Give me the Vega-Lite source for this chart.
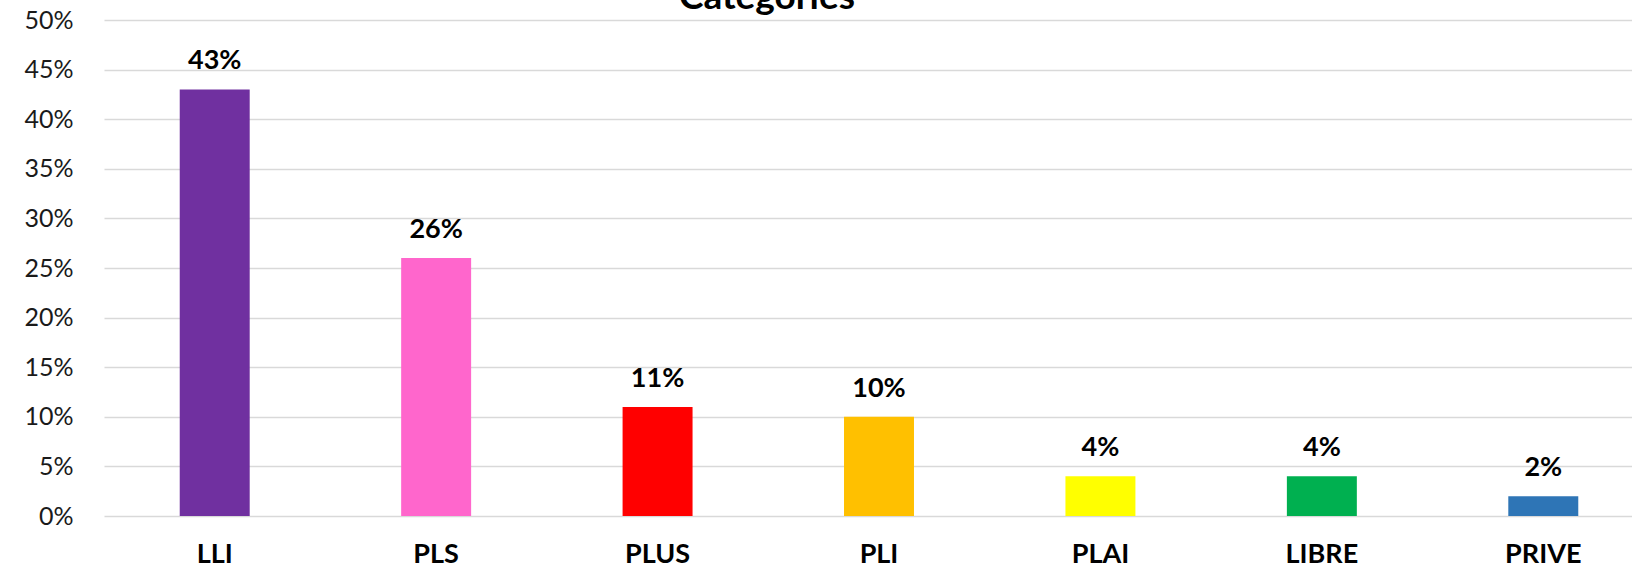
{
  "$schema": "https://vega.github.io/schema/vega-lite/v6.json",
  "autosize": {"type": "none"},
  "width": 1528,
  "height": 496,
  "padding": {"left": 104, "top": 20, "right": 0, "bottom": 55},
  "background": "white",
  "title": {
    "text": "Categories",
    "font": "Lato",
    "fontSize": 37,
    "fontWeight": "bold",
    "color": "#000000",
    "anchor": "middle",
    "frame": "group",
    "offset": -9,
    "dx": -101
  },
  "data": {
    "values": [
      {"cat": "LLI", "value": 0.43, "label": "43%"},
      {"cat": "PLS", "value": 0.26, "label": "26%"},
      {"cat": "PLUS", "value": 0.11, "label": "11%"},
      {"cat": "PLI", "value": 0.10, "label": "10%"},
      {"cat": "PLAI", "value": 0.04, "label": "4%"},
      {"cat": "LIBRE", "value": 0.04, "label": "4%"},
      {"cat": "PRIVE", "value": 0.02, "label": "2%"}
    ]
  },
  "encoding": {
    "x": {
      "field": "cat",
      "type": "nominal",
      "sort": null,
      "title": null,
      "scale": {"range": [0, 1550], "paddingInner": 0.684, "paddingOuter": 0.342},
      "axis": {
        "labelAngle": 0,
        "labelFont": "Lato",
        "labelFontSize": 27,
        "labelFontWeight": "bold",
        "labelColor": "#000000",
        "labelPadding": 25,
        "ticks": false,
        "domain": false,
        "grid": false
      }
    },
    "y": {
      "field": "value",
      "type": "quantitative",
      "title": null,
      "scale": {"domain": [0, 0.5], "nice": false},
      "axis": {
        "values": [0, 0.05, 0.1, 0.15, 0.2, 0.25, 0.3, 0.35, 0.4, 0.45, 0.5],
        "format": ".0%",
        "labelFont": "Lato",
        "labelFontSize": 25,
        "labelColor": "#1a1a1a",
        "labelPadding": 31,
        "ticks": false,
        "domain": false,
        "grid": true,
        "gridColor": "#d9d9d9",
        "gridWidth": 1.5
      }
    }
  },
  "layer": [
    {
      "mark": {"type": "bar"},
      "encoding": {
        "color": {
          "field": "cat",
          "type": "nominal",
          "legend": null,
          "scale": {
            "domain": ["LLI", "PLS", "PLUS", "PLI", "PLAI", "LIBRE", "PRIVE"],
            "range": ["#7030A0", "#FF66CC", "#FF0000", "#FFC000", "#FFFF00", "#00B050", "#2E75B6"]
          }
        }
      }
    },
    {
      "mark": {
        "type": "text",
        "font": "Lato",
        "fontSize": 27,
        "fontWeight": "bold",
        "color": "#000000",
        "baseline": "alphabetic",
        "dy": -20
      },
      "encoding": {"text": {"field": "label"}}
    }
  ],
  "config": {"view": {"stroke": null}}
}
